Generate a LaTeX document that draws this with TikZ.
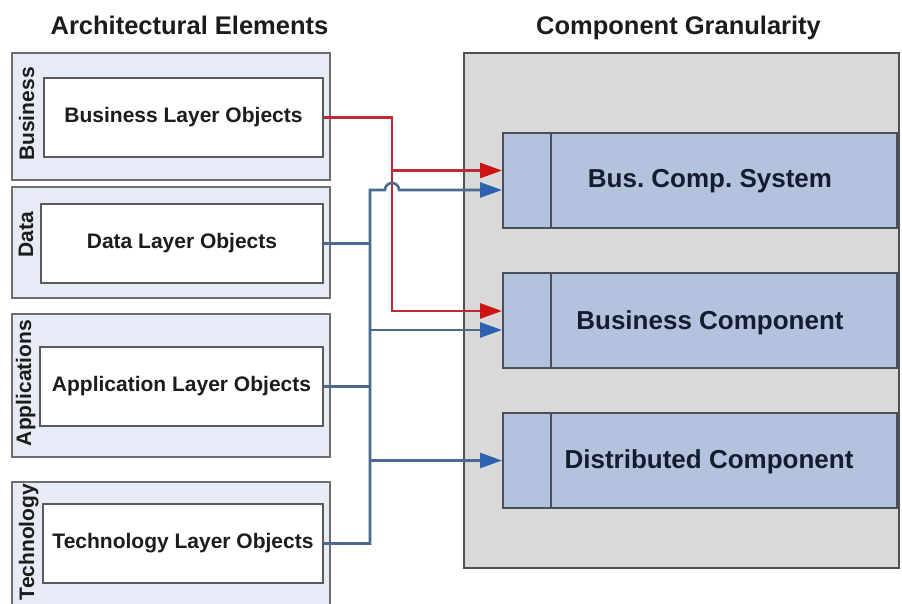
\documentclass[tikz,border=0pt]{standalone}
\usepackage{fontspec}
\setmainfont{Liberation Sans}
\usetikzlibrary{arrows.meta}
\frenchspacing

\definecolor{layerfill}{HTML}{E7EBF6}
\definecolor{layerline}{HTML}{6E6E6E}
\definecolor{objline}{HTML}{5A5A5A}
\definecolor{panelfill}{HTML}{D9D9D9}
\definecolor{panelline}{HTML}{505050}
\definecolor{compfill}{HTML}{B3C3DD}
\definecolor{compline}{HTML}{4A4F5C}
\definecolor{comptext}{HTML}{141C30}
\definecolor{lineRed}{HTML}{BC2A32}
\definecolor{tipRed}{HTML}{CC1414}
\definecolor{lineBlue}{HTML}{4A6A8E}
\definecolor{tipBlue}{HTML}{2E62B0}
\definecolor{inkdark}{HTML}{1C1C1C}

\begin{document}
\begin{tikzpicture}[x=1pt,y=-1pt,
  layerbox/.style={draw=layerline,fill=layerfill,line width=2pt,minimum width=318pt,inner sep=0pt},
  objbox/.style={draw=objline,fill=white,line width=2pt,minimum height=79pt,inner sep=0pt,
    font=\fontsize{21}{25}\selectfont\bfseries,text=inkdark},
  layerlabel/.style={rotate=90,anchor=base,inner sep=0pt,
    font=\fontsize{21}{25}\selectfont\bfseries,text=inkdark},
  title/.style={anchor=base,inner sep=0pt,font=\fontsize{25.5}{30}\selectfont\bfseries,text=inkdark},
  compbox/.style={draw=compline,fill=compfill,line width=2pt,minimum width=394pt,minimum height=95pt,inner sep=0pt},
  comptitle/.style={anchor=base,inner sep=0pt,font=\fontsize{26}{30}\selectfont\bfseries,text=comptext},
  redconn/.style={draw=lineRed,line width=2.8pt},
  blueconn/.style={draw=lineBlue,line width=2.6pt},
  redarrow/.style={redconn,-{Triangle[length=22pt,width=15pt,color=tipRed,fill=tipRed]}},
  bluearrow/.style={blueconn,-{Triangle[length=22pt,width=15pt,color=tipBlue,fill=tipBlue]}}
]
\useasboundingbox (0,0) rectangle (902,604);
\clip (0,0) rectangle (902,604);

% column headings
\node[title] (hA) at (189.5,35) {Architectural Elements};
\node[title] (hC) at (678.5,35) {Component Granularity};

% layer frames
\node[layerbox,minimum height=127pt] (bL) at (171,116.5) {};
\node[layerbox,minimum height=111pt] (dL) at (171,242.5) {};
\node[layerbox,minimum height=143pt] (aL) at (171,385.5) {};
\node[layerbox,minimum height=148pt] (tL) at (171,556) {};

\node[layerlabel] (bT) at (34,114) {Business};
\node[layerlabel] (dT) at (33,235) {Data};
\node[layerlabel] (aT) at (31,383) {Applications};
\node[layerlabel] (tT) at (34,542) {Technology};

% layer objects
\node[objbox,minimum width=279pt] (blo) at (183.5,117.5) {Business Layer Objects};
\node[objbox,minimum width=282pt] (dlo) at (182,243.5) {Data Layer Objects};
\node[objbox,minimum width=283pt] (alo) at (181.5,386.5) {Application Layer Objects};
\node[objbox,minimum width=280pt] (tlo) at (183,543.5) {Technology Layer Objects};

% component panel
\node[draw=panelline,fill=panelfill,line width=2pt,minimum width=435pt,minimum height=515pt,inner sep=0pt]
  (panel) at (681.5,310.5) {};

\node[compbox] (bcs) at (700,180.5) {};
\node[compbox] (bc)  at (700,320.5) {};
\node[compbox] (dc)  at (700,460.5) {};
\foreach \c in {bcs,bc,dc}
  \draw[draw=compline,line width=2pt] ([xshift=49pt]\c.north west) -- ([xshift=49pt]\c.south west);

\node[comptitle] (bcsT) at (710,188) {Bus. Comp. System};
\node[comptitle] (bcT)  at (710,329) {Business Component};
\node[comptitle] (dcT)  at (709,468) {Distributed Component};

% connector ends
\coordinate (bcsR) at ([yshift=10pt]bcs.west);
\coordinate (bcsB) at ([yshift=-9.5pt]bcs.west);
\coordinate (bcR)  at ([yshift=9.5pt]bc.west);
\coordinate (bcB)  at ([yshift=-9.5pt]bc.west);
\coordinate (dcB)  at (dc.west);
\coordinate (rx)   at (392,117.5);
\coordinate (bx)   at (370,190);

% red: business objects
\draw[redarrow] (blo.east) -- (rx) |- (bcR);
\draw[redarrow] (rx |- bcsR) -- (bcsR);

% blue: data, application and technology objects on a common bus
\draw[blueconn] (dlo.east) -- (dlo.east -| bx);
\draw[blueconn] (alo.east) -- (alo.east -| bx);
\draw[bluearrow] (tlo.east) -| (bx) -- (385,190)
  arc[start angle=180,end angle=0,radius=7pt] -- (bcsB);
\draw[bluearrow] (bcB -| bx) -- (bcB);
\draw[bluearrow] (dcB -| bx) -- (dcB);
\end{tikzpicture}
\end{document}
